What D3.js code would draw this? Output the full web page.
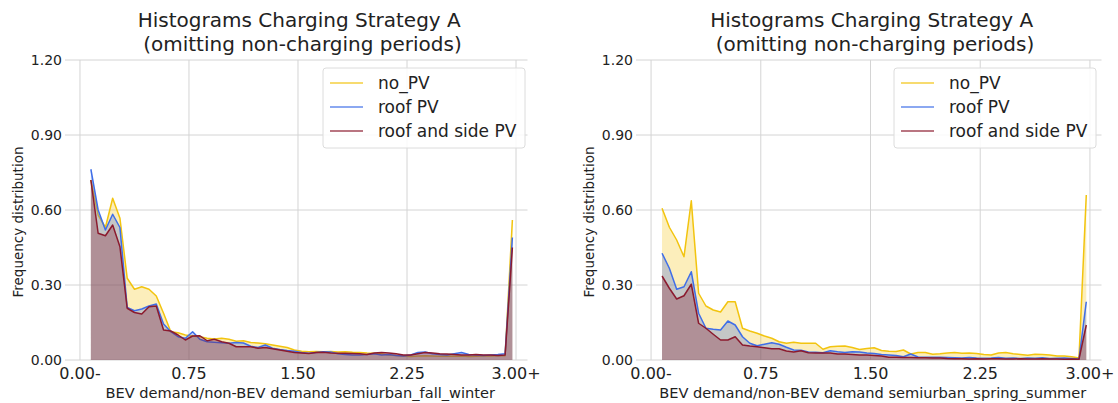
<!DOCTYPE html>
<html>
<head>
<meta charset="utf-8">
<script src="https://cdn.jsdelivr.net/npm/d3@7"></script>
<style>
  body { margin: 0; background: #fff; }
  svg { font-family: "DejaVu Sans", sans-serif; }
</style>
</head>
<body>
<div id="chart"></div>
<script>
// bin centres (ratio BEV / non-BEV demand), last bin is the 3.00+ overflow
const bins = [0.075, 0.125, 0.175, 0.225, 0.275, 0.325, 0.375, 0.425, 0.475, 0.525,
  0.575, 0.625, 0.675, 0.725, 0.775, 0.825, 0.875, 0.925, 0.975, 1.025,
  1.075, 1.125, 1.175, 1.225, 1.275, 1.325, 1.375, 1.425, 1.475, 1.525,
  1.575, 1.625, 1.675, 1.725, 1.775, 1.825, 1.875, 1.925, 1.975, 2.025,
  2.075, 2.125, 2.175, 2.225, 2.275, 2.325, 2.375, 2.425, 2.475, 2.525,
  2.575, 2.625, 2.675, 2.725, 2.775, 2.825, 2.875, 2.925, 2.975];

const seriesNames = ["no_PV", "roof PV", "roof and side PV"];

// fall / winter
const fwNoPV = [0.72, 0.58, 0.53, 0.647, 0.567, 0.327, 0.283, 0.293, 0.283, 0.256,
  0.187, 0.113, 0.109, 0.1, 0.096, 0.093, 0.087, 0.084, 0.087, 0.083,
  0.075, 0.077, 0.07, 0.068, 0.065, 0.06, 0.055, 0.05, 0.04, 0.035,
  0.033, 0.034, 0.033, 0.034, 0.032, 0.033, 0.031, 0.03, 0.028, 0.027,
  0.024, 0.02, 0.018, 0.016, 0.014, 0.016, 0.017, 0.016, 0.015, 0.016,
  0.015, 0.016, 0.014, 0.015, 0.016, 0.016, 0.017, 0.017, 0.56];
const fwRoof = [0.763, 0.60, 0.52, 0.583, 0.53, 0.21, 0.197, 0.204, 0.216, 0.224,
  0.144, 0.113, 0.093, 0.087, 0.113, 0.083, 0.073, 0.071, 0.069, 0.067,
  0.07, 0.068, 0.055, 0.05, 0.06, 0.047, 0.042, 0.038, 0.035, 0.03,
  0.027, 0.03, 0.033, 0.032, 0.025, 0.022, 0.02, 0.02, 0.022, 0.025,
  0.02, 0.022, 0.018, 0.016, 0.02, 0.03, 0.032, 0.025, 0.022, 0.02,
  0.025, 0.03, 0.022, 0.02, 0.018, 0.02, 0.022, 0.025, 0.49];
const fwRoofSide = [0.72, 0.507, 0.497, 0.54, 0.453, 0.207, 0.19, 0.184, 0.213, 0.216,
  0.12, 0.116, 0.1, 0.08, 0.096, 0.097, 0.077, 0.083, 0.073, 0.067,
  0.053, 0.053, 0.053, 0.047, 0.05, 0.045, 0.04, 0.035, 0.03, 0.028,
  0.026, 0.03, 0.031, 0.028, 0.027, 0.027, 0.026, 0.025, 0.022, 0.028,
  0.03, 0.028, 0.025, 0.02, 0.02, 0.025, 0.03, 0.028, 0.025, 0.024,
  0.022, 0.02, 0.02, 0.022, 0.02, 0.02, 0.018, 0.02, 0.45];

// spring / summer
const ssNoPV = [0.607, 0.531, 0.48, 0.413, 0.637, 0.267, 0.216, 0.2, 0.192, 0.233,
  0.233, 0.127, 0.116, 0.107, 0.096, 0.087, 0.073, 0.067, 0.071, 0.067,
  0.067, 0.067, 0.043, 0.053, 0.055, 0.056, 0.05, 0.042, 0.046, 0.049,
  0.038, 0.035, 0.034, 0.04, 0.024, 0.03, 0.03, 0.023, 0.025, 0.028,
  0.03, 0.027, 0.028, 0.026, 0.022, 0.02, 0.028, 0.03, 0.025, 0.022,
  0.019, 0.023, 0.022, 0.02, 0.016, 0.016, 0.013, 0.008, 0.66];
const ssRoof = [0.427, 0.367, 0.283, 0.293, 0.353, 0.187, 0.127, 0.123, 0.12, 0.156,
  0.14, 0.093, 0.067, 0.057, 0.063, 0.069, 0.063, 0.051, 0.04, 0.039,
  0.032, 0.031, 0.029, 0.037, 0.033, 0.03, 0.033, 0.032, 0.028, 0.026,
  0.022, 0.02, 0.018, 0.013, 0.024, 0.012, 0.011, 0.011, 0.011, 0.01,
  0.009, 0.008, 0.01, 0.008, 0.007, 0.008, 0.01, 0.007, 0.008, 0.006,
  0.008, 0.007, 0.009, 0.006, 0.007, 0.008, 0.006, 0.004, 0.233];
const ssRoofSide = [0.336, 0.287, 0.244, 0.257, 0.303, 0.147, 0.127, 0.103, 0.08, 0.08,
  0.093, 0.06, 0.056, 0.053, 0.049, 0.045, 0.045, 0.036, 0.032, 0.037,
  0.029, 0.028, 0.028, 0.028, 0.024, 0.024, 0.022, 0.02, 0.02, 0.018,
  0.016, 0.011, 0.011, 0.01, 0.01, 0.009, 0.009, 0.008, 0.008, 0.006,
  0.005, 0.005, 0.004, 0.005, 0.004, 0.005, 0.005, 0.004, 0.004, 0.005,
  0.004, 0.004, 0.005, 0.004, 0.004, 0.003, 0.004, 0.003, 0.14];

const xTicks = [0, 0.75, 1.5, 2.25, 3.0];
const xTickLabels = ["0.00-", "0.75", "1.50", "2.25", "3.00+"];
const yTicks = [0, 0.3, 0.6, 0.9, 1.2];

const titleLines = ["Histograms Charging Strategy A", " (omitting non-charging periods)"];
const yLabel = "Frequency distribution";

const lineColors = ["#f2c40f", "#3f6ee8", "#8b1a2e"];
const fillColors = ["#f5c81e", "#4169e1", "#80142a"];

const panels = [
  { left: 65, right: 527.5, xLabel: "BEV demand/non-BEV demand semiurban_fall_winter",
    series: [fwNoPV, fwRoof, fwRoofSide] },
  { left: 636, right: 1101.5, xLabel: "BEV demand/non-BEV demand semiurban_spring_summer",
    series: [ssNoPV, ssRoof, ssRoofSide] }
];

const width = 1118, height = 403;
const plotTop = 60, plotBottom = 360;

const svg = d3.select("#chart").append("svg")
  .attr("width", width)
  .attr("height", height);

panels.forEach(p => {
  const x = d3.scaleLinear().domain([-0.103, 3.079]).range([p.left, p.right]);
  const y = d3.scaleLinear().domain([0, 1.2]).range([plotBottom, plotTop]);
  const g = svg.append("g");

  // grid
  g.selectAll(".hgrid").data(yTicks).enter().append("line")
    .attr("x1", p.left).attr("x2", p.right)
    .attr("y1", d => y(d)).attr("y2", d => y(d))
    .attr("stroke", "#d4d4d4").attr("stroke-width", 1);
  g.selectAll(".vgrid").data(xTicks).enter().append("line")
    .attr("x1", d => x(d)).attr("x2", d => x(d))
    .attr("y1", plotTop).attr("y2", plotBottom)
    .attr("stroke", "#d4d4d4").attr("stroke-width", 1);

  const area = d3.area().x((d, i) => x(bins[i])).y0(y(0)).y1(d => y(d));
  const line = d3.line().x((d, i) => x(bins[i])).y(d => y(d));

  p.series.forEach((s, k) => {
    g.append("path").datum(s)
      .attr("d", area)
      .attr("fill", fillColors[k])
      .attr("fill-opacity", 0.3);
    g.append("path").datum(s)
      .attr("d", line)
      .attr("fill", "none")
      .attr("stroke", lineColors[k])
      .attr("stroke-width", 1.5)
      .attr("stroke-linejoin", "round");
  });

  // tick labels
  g.selectAll(".ytl").data(yTicks).enter().append("text")
    .attr("x", p.left - 3)
    .attr("y", d => y(d) + 5)
    .attr("text-anchor", "end")
    .attr("font-size", 14)
    .attr("fill", "#222")
    .text(d => d.toFixed(2));
  g.selectAll(".xtl").data(xTicks).enter().append("text")
    .attr("x", d => x(d))
    .attr("y", 379)
    .attr("text-anchor", "middle")
    .attr("font-size", 16)
    .attr("fill", "#222")
    .text((d, i) => xTickLabels[i]);

  // axis titles
  g.append("text")
    .attr("x", (p.left + p.right) / 2 + 4)
    .attr("y", 398)
    .attr("text-anchor", "middle")
    .attr("font-size", 14.6)
    .attr("fill", "#222")
    .text(p.xLabel);
  g.append("text")
    .attr("transform", `translate(${p.left - 42},${(plotTop + plotBottom) / 2 + 12}) rotate(-90)`)
    .attr("text-anchor", "middle")
    .attr("font-size", 13.5)
    .attr("fill", "#222")
    .text(yLabel);

  // title
  titleLines.forEach((t, i) => {
    g.append("text")
      .attr("x", (p.left + p.right) / 2 + 3)
      .attr("y", 27 + i * 24)
      .attr("text-anchor", "middle")
      .attr("font-size", 20)
      .attr("fill", "#222")
      .attr("xml:space", "preserve")
      .text(t);
  });

  // legend
  const lx = p.left + 258, ly = 68;
  g.append("rect")
    .attr("x", lx).attr("y", ly)
    .attr("width", 202).attr("height", 80)
    .attr("rx", 3)
    .attr("fill", "#fff").attr("fill-opacity", 0.85)
    .attr("stroke", "#dcdcdc");
  seriesNames.forEach((n, k) => {
    const yy = ly + 15 + k * 24;
    g.append("line")
      .attr("x1", lx + 7).attr("x2", lx + 40)
      .attr("y1", yy).attr("y2", yy)
      .attr("stroke", lineColors[k])
      .attr("stroke-opacity", 0.8)
      .attr("stroke-width", 1.5);
    g.append("text")
      .attr("x", lx + 55).attr("y", yy + 6)
      .attr("font-size", 17)
      .attr("fill", "#222")
      .text(n);
  });
});
</script>
</body>
</html>
